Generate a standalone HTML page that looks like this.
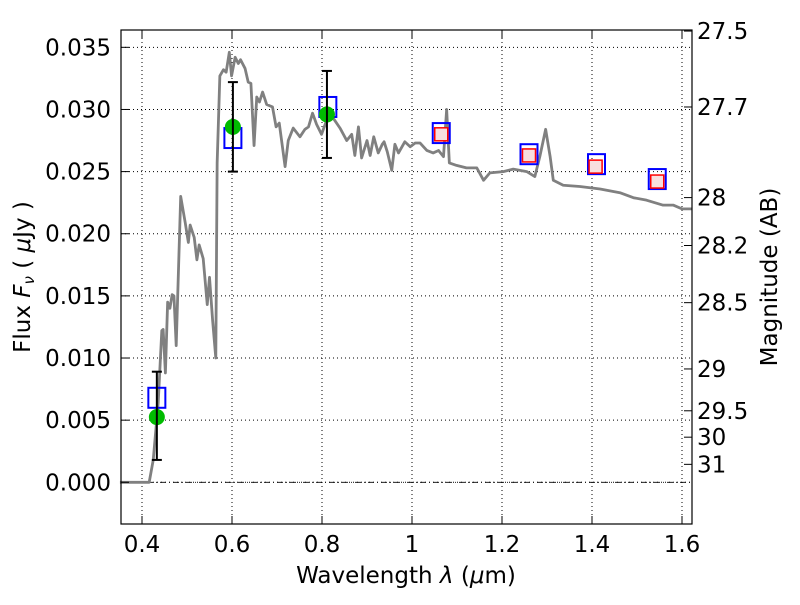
<!DOCTYPE html>
<html><head><meta charset="utf-8"><style>
body{margin:0;background:#fff;}
svg text{font-family:"DejaVu Sans","Liberation Sans",sans-serif;}
</style></head><body>
<svg id="chart" width="800" height="600" xmlns="http://www.w3.org/2000/svg">
<rect width="800" height="600" fill="#fff"/>
<g id="grid"></g>
<g id="plot"></g>
<rect x="121" y="30" width="571" height="494" fill="none" stroke="#000" stroke-width="1.2"/>
<g id="axes"></g>
<text x="406" y="583" font-size="23" text-anchor="middle">Wavelength  <tspan font-style="italic">λ</tspan> (<tspan font-style="italic">μ</tspan>m)</text>
<text transform="translate(30,277) rotate(-90)" font-size="23" text-anchor="middle">Flux  <tspan font-style="italic">F</tspan><tspan font-style="italic" font-size="15" dy="4">ν</tspan><tspan dy="-4">  ( <tspan font-style="italic">μ</tspan>Jy )</tspan></text>
<text transform="translate(777,277) rotate(-90)" font-size="23" text-anchor="middle">Magnitude (AB)</text>
</svg>
<script>
const xTicks=[0.4,0.6,0.8,1.0,1.2,1.4,1.6];
const xTickLabels=["0.4","0.6","0.8","1","1.2","1.4","1.6"];
const yTicks=[0,0.005,0.01,0.015,0.02,0.025,0.03,0.035];
const yTickLabels=["0.000","0.005","0.010","0.015","0.020","0.025","0.030","0.035"];
const magTicks=[27.5,27.7,28,28.2,28.5,29,29.5,30,31];
const magLabels=["27.5","27.7","28","28.2","28.5","29","29.5","30","31"];
const specWave=[0.351,0.416,0.425,0.436,0.444,0.447,0.452,0.457,0.462,0.467,0.471,0.476,0.486,0.496,0.503,0.507,0.516,0.522,0.527,0.536,0.545,0.55,0.557,0.564,0.567,0.573,0.581,0.587,0.594,0.599,0.607,0.614,0.619,0.629,0.636,0.642,0.649,0.655,0.661,0.668,0.677,0.69,0.698,0.705,0.718,0.725,0.736,0.751,0.762,0.77,0.779,0.788,0.799,0.812,0.825,0.84,0.855,0.866,0.873,0.881,0.888,0.9,0.907,0.915,0.925,0.934,0.938,0.945,0.955,0.962,0.97,0.984,0.996,1.007,1.018,1.033,1.047,1.059,1.07,1.077,1.083,1.099,1.121,1.144,1.159,1.173,1.203,1.225,1.255,1.273,1.284,1.297,1.307,1.314,1.336,1.373,1.418,1.462,1.492,1.521,1.558,1.581,1.6,1.622];
const specFlux=[0,0,0.0018,0.0064,0.0122,0.0123,0.0088,0.0145,0.014,0.0151,0.015,0.011,0.023,0.0209,0.0193,0.0207,0.0197,0.0179,0.0191,0.018,0.0143,0.0165,0.013,0.010,0.0257,0.0327,0.0332,0.033,0.0346,0.0327,0.0342,0.0337,0.034,0.0333,0.0322,0.0321,0.0271,0.031,0.0306,0.0314,0.0304,0.0302,0.0286,0.0289,0.0254,0.0275,0.0285,0.0278,0.0284,0.0286,0.0297,0.0288,0.028,0.0293,0.0293,0.0285,0.0275,0.028,0.0263,0.0286,0.0261,0.0275,0.0263,0.0278,0.0265,0.0272,0.0274,0.0266,0.0251,0.0272,0.0265,0.0274,0.027,0.0273,0.0273,0.0267,0.0265,0.0267,0.0262,0.030,0.0257,0.0255,0.0253,0.0253,0.0243,0.0249,0.025,0.0252,0.025,0.0246,0.0262,0.0284,0.0262,0.0243,0.0239,0.0238,0.0236,0.0233,0.0229,0.0227,0.0223,0.0223,0.022,0.022];
const obsWave=[0.433,0.602,0.811];
const obsFlux=[0.00525,0.0286,0.0296];
const obsLow=[0.0018,0.0250,0.0261];
const obsHigh=[0.0089,0.0322,0.0331];
const modelWave=[0.433,0.602,0.813,1.065,1.26,1.41,1.545];
const modelFlux=[0.0068,0.0277,0.0302,0.0281,0.0264,0.0256,0.0244];
const predWave=[1.065,1.26,1.408,1.545];
const predFlux=[0.0280,0.0263,0.0254,0.0242];

const NS="http://www.w3.org/2000/svg";
const X=v=>142+(v-0.4)*450;
const Y=v=>482.3-v*12428;
const magY=m=>Y(Math.pow(10,(23.9-m)/2.5));
function mk(tag,attrs,parent){const e=document.createElementNS(NS,tag);for(const k in attrs)e.setAttribute(k,attrs[k]);parent.appendChild(e);return e;}
const grid=document.getElementById('grid'),plot=document.getElementById('plot'),axes=document.getElementById('axes');
xTicks.forEach((t,i)=>{
  const g=mk('line',{x1:X(t),x2:X(t),y1:30,y2:524,stroke:'#000','stroke-width':1,'stroke-dasharray':'1,3'},grid);
  
  
  mk('line',{x1:X(t),x2:X(t),y1:524,y2:516,stroke:'#000'},axes);
  mk('line',{x1:X(t),x2:X(t),y1:30,y2:38,stroke:'#000'},axes);
  const tx=mk('text',{x:X(t),y:552,'font-size':23,'text-anchor':'middle'},axes);
  tx.textContent=xTickLabels[i];
  
  
});
yTicks.forEach((t,i)=>{
  const g=mk('line',{x1:121,x2:692,y1:Y(t),y2:Y(t),stroke:'#000','stroke-width':1,'stroke-dasharray':'1,3'},grid);
  
  
  mk('line',{x1:121,x2:129,y1:Y(t),y2:Y(t),stroke:'#000'},axes);
  const tx=mk('text',{x:111,y:Y(t)+8,'font-size':23,'text-anchor':'end'},axes);
  tx.textContent=yTickLabels[i];
  
  
});
magTicks.forEach((m,i)=>{
  const y=magY(m);
  mk('line',{x1:684,x2:692,y1:y,y2:y,stroke:'#000'},axes);
  const tx=mk('text',{x:697,y:y+8,'font-size':23},axes);
  tx.textContent=magLabels[i];
  
  
});
const zl=mk('line',{x1:121,x2:692,y1:Y(0),y2:Y(0),stroke:'#000','stroke-width':0.8,'stroke-dasharray':'6,3,1,3'},grid);


const sp=mk('polyline',{points:specWave.map((w,i)=>X(w)+','+Y(specFlux[i])).join(' '),fill:'none',stroke:'#808080','stroke-width':2.8,'stroke-linejoin':'round'},plot);


modelWave.forEach((w,i)=>{
  const r=mk('rect',{x:X(w)-8.5,y:Y(modelFlux[i])-10,width:17,height:20,fill:'none',stroke:'#0000ff','stroke-width':2},plot);
  
  
});
predWave.forEach((w,i)=>{
  const r=mk('rect',{x:X(w)-6.5,y:Y(predFlux[i])-6.5,width:13,height:13,fill:'#f8dede',stroke:'#ff0000','stroke-width':1.5},plot);
  
  
});
obsWave.forEach((w,i)=>{
  const x=X(w);
  const g=mk('g',{},plot);
  
  
  mk('circle',{cx:x,cy:Y(obsFlux[i]),r:8,fill:'#00bb00'},g);
  mk('line',{x1:x,x2:x,y1:Y(obsLow[i]),y2:Y(obsHigh[i]),stroke:'#000','stroke-width':2},g);
  mk('line',{x1:x-5,x2:x+5,y1:Y(obsLow[i]),y2:Y(obsLow[i]),stroke:'#000','stroke-width':2},g);
  mk('line',{x1:x-5,x2:x+5,y1:Y(obsHigh[i]),y2:Y(obsHigh[i]),stroke:'#000','stroke-width':2},g);
});
</script>
</body></html>
